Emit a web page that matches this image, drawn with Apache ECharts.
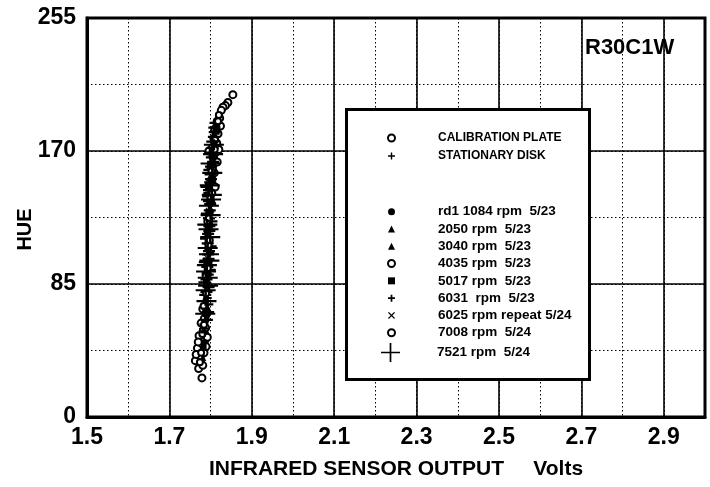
<!DOCTYPE html>
<html><head><meta charset="utf-8">
<script src="https://cdn.jsdelivr.net/npm/echarts@6/dist/echarts.min.js"></script>
<style>html,body{margin:0;padding:0;background:#fff}#c{width:710px;height:487px}</style>
</head><body><div id="c"></div>
<script>
const FONT = "'Liberation Sans','Arial','Helvetica',sans-serif";

const xTickLabels = ['1.5','1.7','1.9','2.1','2.3','2.5','2.7','2.9'];
const yTickLabels = ['0','85','170','255'];
const xAxisTitle = 'INFRARED SENSOR OUTPUT     Volts';
const yAxisTitle = 'HUE';
const chartTag = 'R30C1W';

const seriesNames = ['CALIBRATION PLATE','STATIONARY DISK','rd1 1084 rpm  5/23','2050 rpm  5/23','3040 rpm  5/23',
  '4035 rpm  5/23','5017 rpm  5/23','6031  rpm  5/23','6025 rpm repeat 5/24','7008 rpm  5/24','7521 rpm  5/24'];

const calibrationPlate = [[1.779,25],[1.771,31],[1.781,33],[1.763,36],[1.775,39],[1.784,41],[1.768,44],[1.779,47],[1.786,49],[1.772,52],[1.782,55],[1.788,57],[1.777,60],[1.785,63],[1.790,66],[1.781,69],[1.765,40],[1.770,48],[1.792,51],[1.789,45],
  [1.854,206],[1.842,201],[1.836,199],[1.830,198],[1.826,196],[1.822,191],[1.816,189],[1.824,186],[1.810,184],[1.818,181],[1.808,178],[1.815,175],[1.804,172],[1.812,169],[1.806,166],[1.816,163],[1.801,160],[1.809,156],[1.803,152],[1.811,147],[1.796,170],[1.820,171]];
const stationaryDisk = [[1.792,72],[1.787,78],[1.795,83],[1.790,88],[1.798,94],[1.786,99],[1.794,104],[1.800,109],[1.789,114],[1.797,119],[1.802,125],[1.791,130],[1.799,136],[1.794,141],[1.790,147],[1.801,152],[1.797,158],[1.806,163],[1.799,169],[1.804,176],[1.810,182],[1.812,188],[1.785,86],[1.793,111],[1.796,145],
  [1.791,62],[1.794,67],[1.790,80],[1.793,91],[1.792,96],[1.795,101],[1.796,106],[1.794,117],[1.797,122],[1.796,127],[1.798,132],[1.796,138],[1.797,143],[1.799,150],[1.800,155],[1.801,160],[1.803,166],[1.805,172],[1.808,179],[1.809,185]];
const rpm1084 = [[1.785,48],[1.790,62],[1.788,75],[1.796,91],[1.792,107],[1.799,122],[1.795,138],[1.803,154],[1.806,170],[1.812,184]];
const rpm2050 = [[1.781,38],[1.787,58],[1.793,70],[1.789,86],[1.797,101],[1.794,117],[1.801,133],[1.798,149],[1.805,166],[1.810,179]];
const rpm3040 = [[1.778,43],[1.791,65],[1.786,80],[1.794,96],[1.790,112],[1.798,128],[1.802,144],[1.796,160],[1.808,173],[1.814,187]];
const rpm4035 = [[1.774,35],[1.780,53],[1.783,71],[1.788,90],[1.795,110],[1.792,125],[1.800,140],[1.806,158],[1.811,177],[1.818,189]];
const rpm5017 = [[1.783,45],[1.787,68],[1.792,82],[1.797,98],[1.791,118],[1.800,131],[1.797,146],[1.804,161],[1.809,175],[1.816,185]];
const rpm6031 = [[1.786,54],[1.793,76],[1.788,92],[1.799,105],[1.795,121],[1.803,137],[1.799,151],[1.807,167],[1.812,181]];
const rpm6025 = [[1.779,58],[1.791,73],[1.796,87],[1.791,102],[1.799,116],[1.795,132],[1.801,147],[1.809,164],[1.806,172]];
const rpm7008 = [[1.777,41],[1.784,59],[1.789,79],[1.793,95],[1.798,113],[1.796,127],[1.804,143],[1.802,157],[1.810,171],[1.820,193]];
const rpm7521 = [[1.788,81],[1.790,74],[1.794,84],[1.789,93],[1.791,97],[1.797,100],[1.793,108],[1.799,115],[1.795,120],[1.792,123],[1.800,129],[1.796,135],[1.803,142],[1.798,148],[1.804,156],[1.800,162],[1.806,168],[1.787,66],[1.796,104],[1.801,139],[1.793,89],[1.808,174]];

const seriesData = [calibrationPlate, stationaryDisk, rpm1084, rpm2050, rpm3040, rpm4035, rpm5017, rpm6031, rpm6025, rpm7008, rpm7521];

const PLUS_S = 'path://M3,0H5V3H8V5H5V8H3V5H0V3H3Z';
const PLUS_T = 'path://M3.2,0H4.8V3.2H8V4.8H4.8V8H3.2V4.8H0V3.2H3.2Z';
const CROSS = 'path://M1,0L4,3L7,0L8,1L5,4L8,7L7,8L4,5L1,8L0,7L3,4L0,1Z';
const BIGPLUS = 'path://M9.1,0H10.9V9.1H20V10.9H10.9V20H9.1V10.9H0V9.1H9.1Z';
const WIDEPLUS = 'path://M8.8,0H11.2V4.8H20V7.2H11.2V12H8.8V7.2H0V4.8H8.8Z';
const symbols = ['emptyCircle', PLUS_S, 'circle', 'triangle', 'triangle', 'emptyCircle', 'rect', PLUS_S, CROSS, 'emptyCircle', WIDEPLUS];
const legendIcons = ['emptyCircle', PLUS_T, 'circle', 'triangle', 'triangle', 'emptyCircle', 'rect', PLUS_S, CROSS, 'emptyCircle', BIGPLUS];
const sizes = [7, [12, 9], 6, 7, 6, 6, 6, 8, 6, 6, [20, 11]];

const chart = echarts.init(document.getElementById('c'), null, {renderer: 'canvas'});

const series = seriesNames.map((n, i) => ({
  name: n, type: 'scatter', xAxisIndex: 0, yAxisIndex: 0,
  data: seriesData[i], symbol: symbols[i], symbolSize: sizes[i],
  itemStyle: {color: '#000', borderColor: '#000', borderWidth: symbols[i] === 'emptyCircle' ? 2 : 0, opacity: 1},
  emphasis: {disabled: true}, z: 2
}));

const legendText = {fontFamily: FONT, fontWeight: 'bold', color: '#000'};

const option = {
  animation: false,
  backgroundColor: '#fff',
  title: {text: chartTag, left: 585, top: 37, padding: 0,
    textStyle: {fontFamily: FONT, fontWeight: 'bold', fontSize: 22, color: '#000'}},
  grid: {left: 87, right: 5, top: 18, bottom: 70, outerBoundsMode: 'none', containLabel: false,
    show: true, borderColor: '#000', borderWidth: 3, backgroundColor: 'transparent'},
  xAxis: [{
    type: 'value', min: 1.5, max: 3.0, interval: 0.2,
    name: xAxisTitle, nameLocation: 'middle', nameGap: 42, nameMoveOverlap: false,
    nameTextStyle: {fontFamily: FONT, fontWeight: 'bold', fontSize: 21, color: '#000'},
    axisLine: {show: true, lineStyle: {color: '#000', width: 3}},
    axisTick: {show: false},
    axisLabel: {margin: 9, fontFamily: FONT, fontWeight: 'bold', fontSize: 23, color: '#000',
      formatter: v => { const i = Math.round((v - 1.5) / 0.2); return (Math.abs(v - (1.5 + i * 0.2)) < 1e-6 && i < xTickLabels.length) ? xTickLabels[i] : ''; }},
    splitLine: {show: true, lineStyle: {color: '#000', width: 1.6}}
  }, {
    type: 'value', min: 1.5, max: 3.0, interval: 0.1, position: 'bottom',
    axisLine: {show: false}, axisTick: {show: false}, axisLabel: {show: false},
    splitLine: {show: true, lineStyle: {color: '#000', width: 1, type: [1.5, 2.5]}}
  }],
  yAxis: [{
    type: 'value', min: 0, max: 255, interval: 85,
    name: yAxisTitle, nameLocation: 'middle', nameGap: 52, nameMoveOverlap: false,
    nameTextStyle: {fontFamily: FONT, fontWeight: 'bold', fontSize: 20, color: '#000', padding: [0, 24, 0, 0]},
    axisLine: {show: true, lineStyle: {color: '#000', width: 3}},
    axisTick: {show: false},
    axisLabel: {margin: 11, fontFamily: FONT, fontWeight: 'bold', fontSize: 23, color: '#000',
      formatter: v => yTickLabels[Math.round(v / 85)] || ''},
    splitLine: {show: true, lineStyle: {color: '#000', width: 1.6}}
  }, {
    type: 'value', min: 0, max: 255, interval: 42.5, position: 'left',
    axisLine: {show: false}, axisTick: {show: false}, axisLabel: {show: false},
    splitLine: {show: true, lineStyle: {color: '#000', width: 1, type: [1.5, 2.5]}}
  }],
  graphic: [{
    type: 'rect', z: 3, left: 345, top: 108,
    shape: {width: 243, height: 270},
    style: {fill: '#fff', stroke: '#000', lineWidth: 3}
  }],
  legend: [{
    data: seriesNames.slice(0, 2).map((n, k) => ({name: n, icon: legendIcons[k]})),
    orient: 'vertical', left: 387, top: 129, padding: 0,
    itemWidth: 7, itemHeight: 7, itemGap: 0, selectedMode: false, z: 5,
    textStyle: Object.assign({fontSize: 12, lineHeight: 18, padding: [0, 0, 0, 38]}, legendText)
  }, {
    data: seriesNames.slice(2, 10).map((n, k) => ({name: n, icon: legendIcons[k + 2]})),
    orient: 'vertical', left: 387, top: 203, padding: 0,
    itemWidth: 7, itemHeight: 7, itemGap: 0, selectedMode: false, z: 5,
    textStyle: Object.assign({fontSize: 13.5, lineHeight: 17.3, padding: [0, 0, 0, 38]}, legendText)
  }, {
    data: seriesNames.slice(10).map((n, k) => ({name: n, icon: legendIcons[k + 10]})),
    orient: 'vertical', left: 381, top: 343, padding: 0,
    itemWidth: 19, itemHeight: 19, itemGap: 0, selectedMode: false, z: 5,
    textStyle: Object.assign({fontSize: 13.5, lineHeight: 19, padding: [0, 0, 0, 32]}, legendText)
  }],
  series: series
};
chart.setOption(option);
</script></body></html>
